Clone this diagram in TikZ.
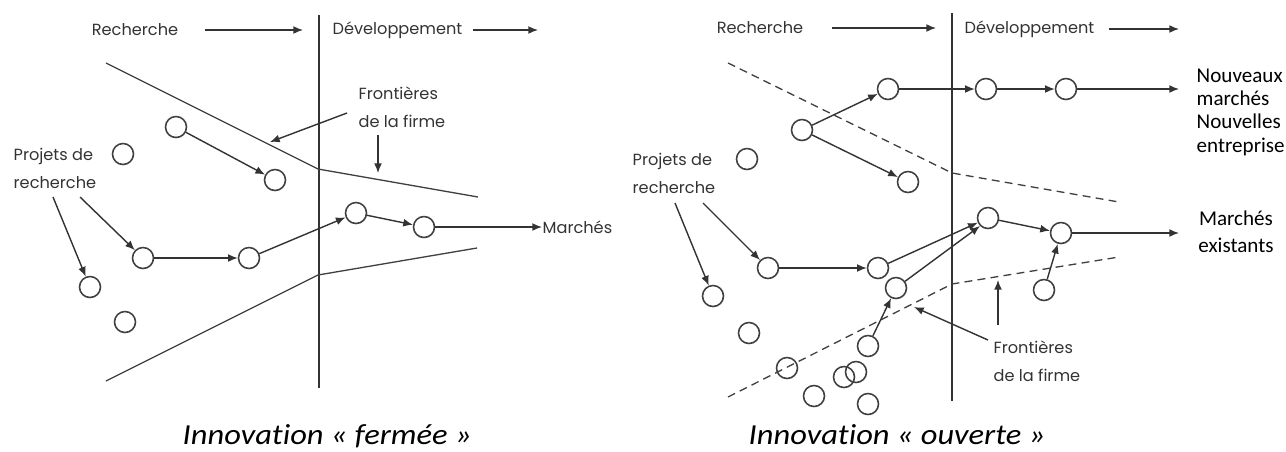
\documentclass[tikz,border=0pt]{standalone}
\usepackage{fontspec}
\setmainfont{Carlito}[Ligatures=NoCommon]
\newfontfamily\geofont{Poppins}
\newfontfamily\capfont{Carlito}[FakeStretch=1.12, Ligatures=NoCommon]
\usetikzlibrary{arrows.meta, positioning}

\begin{document}
\begin{tikzpicture}[x=0.02cm, y=-0.02cm, >={Latex[length=5.5pt,width=4.5pt]},
    line width=0.8pt, draw=black!80,
    projet/.style={circle, draw=black!75, line width=0.9pt, minimum size=0.42cm, inner sep=0pt},
    lbl/.style={font=\geofont\fontsize{9.2}{16}\selectfont, text=black!80, align=left, inner sep=0pt},
    marche/.style={font=\fontsize{12}{13.3}\selectfont, align=left, inner sep=0pt},
    titre/.style={font=\capfont\itshape\fontsize{16.5}{19}\selectfont, anchor=base west, inner sep=0pt},
    bord/.style={line width=0.75pt, black!75},
    pointille/.style={bord, dash pattern=on 4.5pt off 3pt}]
    \useasboundingbox (0,0) rectangle (1286,451);

    % innovation fermee
    \node[lbl] (rechF) at (135,30) {Recherche};
    \node[lbl, anchor=west] (devF) at (332,30) {Développement};
    \coordinate (rechFa) at (205,30);
    \coordinate (rechFb) at (303,30);
    \coordinate (devFa) at (473,30);
    \coordinate (devFb) at (538,30);
    \coordinate (sepFt) at (319,15);
    \coordinate (sepFb) at (319,388);
    \draw[->] (rechFa) -- (rechFb);
    \draw[->] (devFa) -- (devFb);
    \draw (sepFt) -- (sepFb);
    \draw[bord] (106,63) -- (318,169) -- (478,197);
    \draw[bord] (106,381) -- (318,275) -- (477,248);

    \node[lbl, anchor=west] (frontF) at (358,107) {Frontières\\de la firme};
    \coordinate (frontFa) at (347,113);
    \coordinate (frontFb) at (270,142);
    \coordinate (frontFc) at (378,135);
    \coordinate (frontFd) at (378,173);
    \draw[->] (frontFa) -- (frontFb);
    \draw[->] (frontFc) -- (frontFd);

    \node[lbl, anchor=west] (projF) at (13,168) {Projets de\\recherche};
    \coordinate (projFa) at (53,197);
    \coordinate (projFb) at (80,197);

    \node[projet] (fA) at (176,127) {};
    \node[projet] (fB) at (275,180) {};
    \node[projet] (fL) at (123,154) {};
    \node[projet] (fC) at (90,287) {};
    \node[projet] (fD) at (143,258) {};
    \node[projet] (fE) at (249,258) {};
    \node[projet] (fF) at (356,213) {};
    \node[projet] (fG) at (424,227) {};
    \node[projet] (fH) at (125,322) {};
    \node[lbl, anchor=west] (marF) at (542,227) {Marchés};

    \path[->]
    (fA)    edge (fB)
    (projFa) edge (fC)
    (projFb) edge (fD)
    (fD)    edge (fE)
    (fE)    edge (fF)
    (fF)    edge (fG)
    (fG)    edge (marF);

    % innovation ouverte
    \node[lbl] (rechO) at (760,28) {Recherche};
    \node[lbl, anchor=west] (devO) at (964,29) {Développement};
    \coordinate (rechOa) at (832,28);
    \coordinate (rechOb) at (936,28);
    \coordinate (devOa) at (1109,29);
    \coordinate (devOb) at (1179,29);
    \coordinate (sepOt) at (952,13);
    \coordinate (sepOb) at (952,401);
    \draw[->] (rechOa) -- (rechOb);
    \draw[->] (devOa) -- (devOb);
    \draw (sepOt) -- (sepOb);
    \draw[pointille] (728,63) -- (952,173) -- (1119,202);
    \draw[pointille] (728,397) -- (952,284) -- (1119,257);

    \node[lbl, anchor=west] (frontO) at (993,361) {Frontières\\de la firme};
    \coordinate (frontOa) at (988,340);
    \coordinate (frontOb) at (914,307);
    \coordinate (frontOc) at (998,325);
    \coordinate (frontOd) at (998,280);
    \draw[->] (frontOa) -- (frontOb);
    \draw[->] (frontOc) -- (frontOd);

    \node[lbl, anchor=west] (projO) at (632,173) {Projets de\\recherche};
    \coordinate (projOa) at (675,203);
    \coordinate (projOb) at (703,203);

    \node[projet] (oL) at (747,159) {};
    \node[projet] (oR1) at (802,130) {};
    \node[projet] (oN1) at (888,89) {};
    \node[projet] (oN2) at (986,89) {};
    \node[projet] (oN3) at (1066,89) {};
    \node[projet] (oR2) at (908,182) {};
    \node[projet] (oP1) at (713,296) {};
    \node[projet] (oP2) at (768,268) {};
    \node[projet] (oQ) at (878,268) {};
    \node[projet] (oS) at (896,288) {};
    \node[projet] (oM1) at (988,218) {};
    \node[projet] (oM2) at (1061,233) {};
    \node[projet] (oT) at (1044,290) {};
    \node[projet] (oW) at (749,333) {};
    \node[projet] (oV) at (787,368) {};
    \node[projet] (oX) at (814,396) {};
    \node[projet] (oK1) at (868,346) {};
    \node[projet] (oK2) at (844,377) {};
    \node[projet] (oK3) at (856,372) {};
    \node[projet] (oK4) at (868,404) {};
    \coordinate (nouvFin) at (1179,89);
    \coordinate (exisFin) at (1179,233);

    \node[marche, anchor=west] (nouv) at (1196,112) {Nouveaux\\marchés\\Nouvelles\\entreprise};
    \node[marche, align=center, font=\fontsize{12}{15.3}\selectfont] (exis) at (1236,232) {Marchés\\existants};

    \path[->]
    (oR1)   edge (oN1)
            edge (oR2)
    (oN1)   edge (oN2)
    (oN2)   edge (oN3)
    (oN3)   edge (nouvFin)
    (projOa) edge (oP1)
    (projOb) edge (oP2)
    (oP2)   edge (oQ)
    (oQ)    edge (oM1)
    (oS)    edge (oM1.south west)
    (oK1)   edge (oS)
    (oM1)   edge (oM2)
    (oT)    edge (oM2)
    (oM2)   edge (exisFin);

    \node[titre] (capF) at (182,444) {Innovation « fermée »};
    \node[titre] (capO) at (748,444) {Innovation « ouverte »};
\end{tikzpicture}
\end{document}
